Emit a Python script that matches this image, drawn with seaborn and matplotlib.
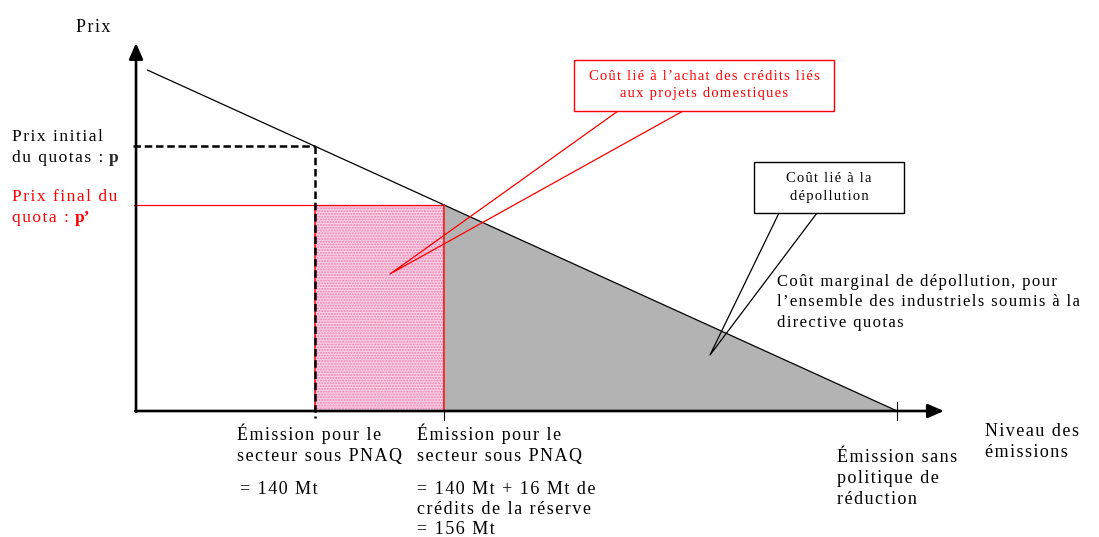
import matplotlib
matplotlib.use("Agg")
import matplotlib.pyplot as plt
import seaborn as sns
from matplotlib.patches import Rectangle

# Courbe de coût marginal de dépollution (émissions en Mt, prix en unités arbitraires)
mac_emissions = [119.2, 212.2]
mac_prix = [34.1, 0.0]

emission_origine = 117.8
emission_pnaq = 140
emission_avec_reserve = 156
emission_sans_politique = 212.2
emission_max_axe = 218.0
prix_initial = 26.5
prix_final = 20.6
prix_max_axe = 36.8

W, H = 1099, 537

sns.set_theme(style="white")
plt.rcParams["font.family"] = ["Liberation Serif", "DejaVu Serif"]
plt.rcParams["hatch.linewidth"] = 1.0


def fx(x, y):
    # position en pixels -> fraction des axes
    return x / W, 1 - y / H


def sp(s):
    # léger espacement des lettres comme dans l'original
    return "\u200a".join(s)


fig = plt.figure(figsize=(W / 100, H / 100), dpi=100)
ax = fig.add_axes([0, 0, 1, 1])
ax.set_xlim(100.93, 237.24)
ax.set_ylim(-12.6, 41.1)
ax.axis("off")

# zones
ax.fill_between([emission_avec_reserve, emission_sans_politique], [prix_final, 0], 0,
                color="#b3b3b3", lw=0, zorder=1)
ax.fill_between([emission_pnaq, emission_avec_reserve], prix_final, 0,
                facecolor="#f9d3e4", edgecolor="#ee7fb1", hatch="......", lw=0, zorder=1)

# courbe
sns.lineplot(x=mac_emissions, y=mac_prix, color="black", lw=0.9, ax=ax, zorder=3)

# prix final (rouge) et rectangle
ax.plot([117.55, emission_avec_reserve], [prix_final, prix_final], color="red", lw=0.9, zorder=3)
ax.plot([emission_avec_reserve, emission_avec_reserve], [prix_final, 0], color="red", lw=1.1, zorder=3)
ax.plot([emission_pnaq, emission_pnaq], [prix_final, 0], color="red", lw=1.1, zorder=3)

# prix initial (pointillés)
ax.plot([117.45, emission_pnaq], [prix_initial, prix_initial], color="black", lw=1.8,
        ls=(0, (3, 1.5)), zorder=4)
ax.plot([emission_pnaq, emission_pnaq], [prix_initial, -0.7], color="black", lw=1.8,
        ls=(0, (3, 1.5)), zorder=4)

# graduations
ax.plot([emission_avec_reserve] * 2, [0, -0.9], color="black", lw=0.8, zorder=4)
ax.plot([emission_sans_politique] * 2, [0.9, -0.9], color="black", lw=0.8, zorder=4)

# axes avec flèches
arrow = dict(arrowstyle="-|>,head_length=0.8,head_width=0.35", lw=1.9, color="black",
             mutation_scale=12, shrinkA=0, shrinkB=0)
ax.annotate("", xy=(emission_origine, prix_max_axe), xytext=(emission_origine, -0.1),
            arrowprops=arrow, zorder=5)
ax.annotate("", xy=(emission_max_axe, 0), xytext=(emission_origine - 0.1, 0),
            arrowprops=arrow, zorder=5)

# bulles
ta = ax.transAxes
for pts, col in [([(618, 111), (390, 274), (683, 111)], "red"),
                 ([(779, 213), (710, 355), (817, 213)], "black")]:
    xs, ys = zip(*[fx(*p) for p in pts])
    ax.plot(xs, ys, color=col, lw=0.9, transform=ta, zorder=6)

for (x0, y0, x1, y1), col in [((574, 60, 834, 111), "red"), ((754, 162, 904, 213), "black")]:
    ax.add_patch(Rectangle(fx(x0, y1), (x1 - x0) / W, (y1 - y0) / H, transform=ta,
                           facecolor="white", edgecolor=col, lw=1.0, zorder=7))

ax.text(*fx(704, 76), sp("Coût lié à l’achat des crédits liés"), color="red", fontsize=10.5,
        ha="center", va="center", transform=ta, zorder=8)
ax.text(*fx(704, 94), sp("aux projets domestiques"), color="red", fontsize=10.5,
        ha="center", va="center", transform=ta, zorder=8)
ax.text(*fx(829, 178), sp("Coût lié à la"), color="black", fontsize=10.5,
        ha="center", va="center", transform=ta, zorder=8)
ax.text(*fx(829, 196), sp("dépollution"), color="black", fontsize=10.5,
        ha="center", va="center", transform=ta, zorder=8)


def lines(x, y, rows, step, color="black", size=13):
    out = []
    for i, r in enumerate(rows):
        out.append(ax.text(*fx(x, y + i * step), sp(r), color=color, fontsize=size,
                           ha="left", va="center", transform=ta))
    return out


lines(76, 27, ["Prix"], 21)
t1 = lines(12, 137, ["Prix initial", "du quotas : "], 21.5, size=12.5)
ax.annotate("p", xy=(1, 0), xycoords=t1[1], va="bottom", ha="left", fontsize=12.5,
            weight="bold")
t2 = lines(12, 197, ["Prix final du", "quota : "], 20.5, color="red", size=12.5)
ax.annotate("p’", xy=(1, 0), xycoords=t2[1], va="bottom", ha="left", fontsize=12.5,
            weight="bold", color="red")

lines(237, 434, ["Émission pour le", "secteur sous PNAQ"], 22)
lines(240, 489, ["= 140 Mt"], 21)
lines(417, 434, ["Émission pour le", "secteur sous PNAQ"], 22)
lines(417, 489, ["= 140 Mt + 16 Mt de", "crédits de la réserve", "= 156 Mt"], 20.5)
lines(837, 458, ["Émission sans", "politique de", "réduction"], 20.5)
lines(985, 432, ["Niveau des", "émissions"], 20.5)
lines(777, 282, ["Coût marginal de dépollution, pour",
                 "l’ensemble des industriels soumis à la",
                 "directive quotas"], 20.5, size=12)

fig.savefig("out.png", dpi=100)
